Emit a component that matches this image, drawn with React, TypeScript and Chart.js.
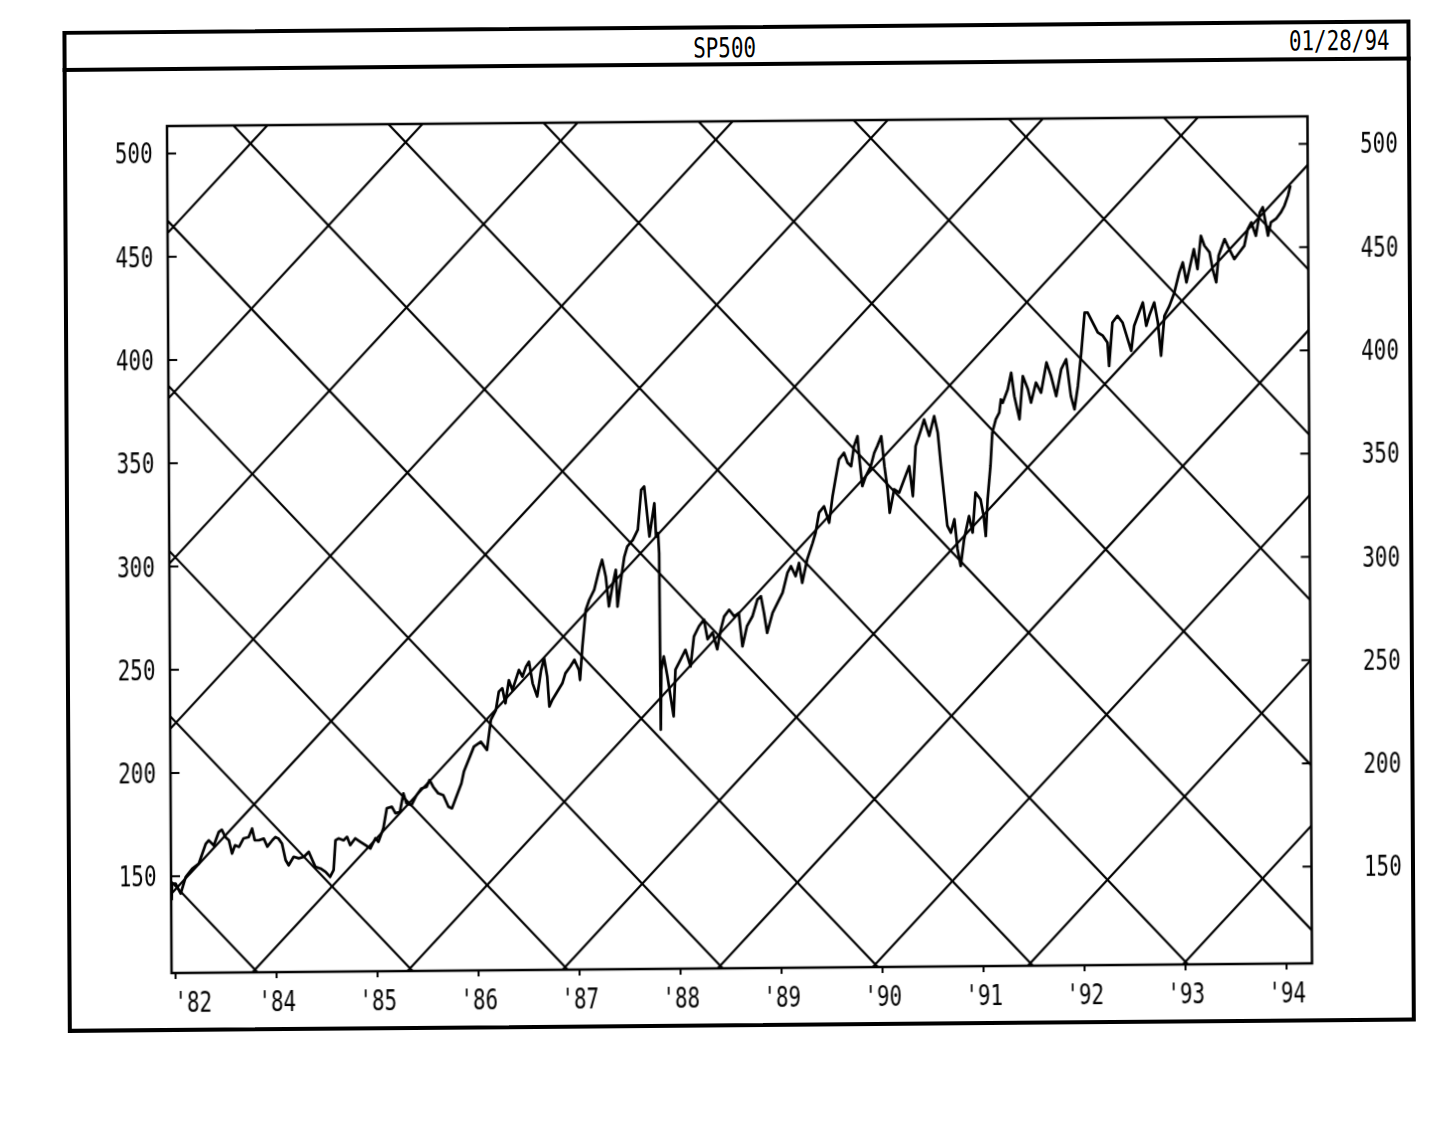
import React, { useEffect, useRef } from "react";
import { Chart, registerables } from "chart.js";

Chart.register(...registerables);

// ---------- text ----------
const TITLE = "SP500";
const DATE_TEXT = "01/28/94";

// ---------- axes ----------
const X_TICK_YEARS = [1983, 1984, 1985, 1986, 1987, 1988, 1989, 1990, 1991, 1992, 1993, 1994];
const X_TICK_LABELS = ["'82", "'84", "'85", "'86", "'87", "'88", "'89", "'90", "'91", "'92", "'93", "'94"];
const Y_TICKS = [150, 200, 250, 300, 350, 400, 450, 500];
const X_MIN = 1982.965;
const X_MAX = 1994.257;
const Y_MIN = 103.2;
const Y_MAX = 513.3;

// ---------- series (year fraction, index level) ----------
const DATES = [
  1982.97, 1982.975, 1983.01, 1983.06, 1983.11, 1983.175, 1983.24, 1983.27, 1983.31, 1983.34,
  1983.39, 1983.44, 1983.47, 1983.505, 1983.54, 1983.57, 1983.6, 1983.64, 1983.685, 1983.735,
  1983.77, 1983.795, 1983.835, 1983.885, 1983.92, 1983.97, 1984.0, 1984.03, 1984.065, 1984.1,
  1984.13, 1984.18, 1984.23, 1984.28, 1984.33, 1984.365, 1984.395, 1984.445, 1984.495, 1984.54,
  1984.575, 1984.595, 1984.625, 1984.675, 1984.71, 1984.74, 1984.79, 1984.84, 1984.89, 1984.94,
  1984.99, 1985.02, 1985.07, 1985.105, 1985.155, 1985.19, 1985.235, 1985.27, 1985.3, 1985.35,
  1985.4, 1985.45, 1985.5, 1985.53, 1985.565, 1985.615, 1985.665, 1985.715, 1985.75, 1985.8,
  1985.845, 1985.87, 1985.971, 1986.04, 1986.1, 1986.14, 1986.19, 1986.22, 1986.255, 1986.285,
  1986.32, 1986.355, 1986.42, 1986.455, 1986.49, 1986.52, 1986.555, 1986.6, 1986.64, 1986.67,
  1986.7, 1986.72, 1986.75, 1986.8, 1986.85, 1986.88, 1986.93, 1986.97, 1987.015, 1987.025,
  1987.05, 1987.085, 1987.12, 1987.17, 1987.22, 1987.25, 1987.285, 1987.315, 1987.35, 1987.385,
  1987.4, 1987.435, 1987.47, 1987.5, 1987.555, 1987.605, 1987.64, 1987.67, 1987.69, 1987.72,
  1987.755, 1987.77, 1987.785, 1987.805, 1987.815, 1987.822, 1987.83, 1987.855, 1987.89, 1987.92,
  1987.95, 1987.97, 1988.02, 1988.07, 1988.12, 1988.155, 1988.205, 1988.255, 1988.29, 1988.34,
  1988.385, 1988.42, 1988.455, 1988.505, 1988.555, 1988.6, 1988.635, 1988.68, 1988.735, 1988.785,
  1988.82, 1988.85, 1988.88, 1988.935, 1988.985, 1989.035, 1989.085, 1989.12, 1989.165, 1989.2,
  1989.23, 1989.28, 1989.335, 1989.365, 1989.4, 1989.45, 1989.5, 1989.535, 1989.57, 1989.6,
  1989.65, 1989.685, 1989.72, 1989.75, 1989.785, 1989.8, 1989.83, 1989.865, 1989.915, 1989.95,
  1989.98, 1990.02, 1990.05, 1990.08, 1990.1, 1990.145, 1990.195, 1990.245, 1990.295, 1990.33,
  1990.36, 1990.415, 1990.445, 1990.495, 1990.545, 1990.58, 1990.61, 1990.64, 1990.67, 1990.705,
  1990.74, 1990.77, 1990.8, 1990.835, 1990.885, 1990.92, 1990.95, 1991.0, 1991.03, 1991.05,
  1991.07, 1991.1, 1991.12, 1991.155, 1991.19, 1991.207, 1991.225, 1991.275, 1991.31, 1991.34,
  1991.39, 1991.425, 1991.475, 1991.505, 1991.555, 1991.605, 1991.66, 1991.705, 1991.755, 1991.805,
  1991.855, 1991.9, 1991.935, 1991.97, 1992.005, 1992.04, 1992.07, 1992.12, 1992.17, 1992.22,
  1992.265, 1992.28, 1992.315, 1992.365, 1992.415, 1992.465, 1992.5, 1992.53, 1992.58, 1992.617,
  1992.65, 1992.68, 1992.73, 1992.765, 1992.795, 1992.83, 1992.88, 1992.93, 1992.98, 1993.015,
  1993.05, 1993.08, 1993.125, 1993.16, 1993.195, 1993.23, 1993.28, 1993.31, 1993.345, 1993.37,
  1993.43, 1993.475, 1993.525, 1993.575, 1993.625, 1993.66, 1993.695, 1993.74, 1993.78, 1993.81,
  1993.86, 1993.89, 1993.94, 1993.99, 1994.025, 1994.06, 1994.085,
];

const CLOSES = [
  138.4, 146.5, 146.5, 141.6, 149.6, 153.6, 156.0, 160.1, 165.6, 167.3,
  164.8, 171.3, 172.4, 168.8, 167.2, 160.8, 164.8, 164.0, 168.1, 168.7,
  172.8, 167.2, 167.1, 167.9, 164.0, 167.1, 168.6, 167.9, 165.4, 157.4,
  154.9, 159.0, 158.2, 158.9, 161.3, 157.3, 154.0, 153.2, 151.6, 149.1,
  152.4, 166.8, 167.7, 166.8, 168.4, 164.4, 167.6, 166.0, 164.4, 162.7,
  167.6, 165.9, 172.4, 182.1, 182.8, 179.6, 180.4, 189.2, 184.4, 183.5,
  188.3, 191.6, 192.3, 195.6, 192.3, 189.1, 188.2, 182.6, 181.8, 188.2,
  193.9, 199.5, 211.6, 213.9, 209.9, 224.4, 229.2, 238.1, 239.7, 232.4,
  243.6, 238.8, 248.5, 245.3, 250.1, 252.5, 242.0, 235.6, 248.4, 254.1,
  245.2, 230.7, 233.9, 237.9, 241.9, 246.7, 250.0, 253.2, 248.2, 243.4,
  259.5, 277.3, 282.1, 287.0, 296.7, 301.5, 293.4, 278.9, 288.5, 296.6,
  278.8, 291.7, 302.9, 307.8, 311.0, 315.9, 335.2, 336.8, 327.2, 312.6,
  323.9, 328.7, 312.5, 314.2, 304.5, 219.0, 248.1, 254.5, 244.8, 235.1,
  225.4, 248.0, 252.8, 257.6, 249.5, 264.0, 268.9, 272.1, 262.6, 265.8,
  257.7, 267.1, 273.6, 276.8, 273.6, 275.2, 259.0, 268.7, 273.5, 281.6,
  283.2, 275.1, 265.4, 275.1, 280.0, 284.8, 294.5, 297.6, 292.8, 299.2,
  289.5, 300.8, 308.8, 313.7, 323.4, 326.5, 318.5, 331.4, 341.0, 349.1,
  352.3, 347.5, 345.8, 355.5, 360.3, 350.6, 336.1, 340.9, 345.7, 352.2,
  355.4, 360.2, 345.7, 334.4, 323.1, 334.4, 332.8, 339.2, 345.6, 331.1,
  355.3, 363.3, 368.1, 360.1, 369.7, 361.6, 345.5, 331.0, 316.5, 313.2,
  319.7, 305.1, 297.0, 309.9, 321.2, 313.1, 332.5, 329.2, 321.1, 311.4,
  329.2, 345.3, 361.5, 367.9, 371.1, 377.5, 375.9, 382.3, 390.4, 379.1,
  367.8, 388.7, 382.3, 375.8, 385.5, 380.6, 395.2, 388.6, 378.9, 391.8,
  396.7, 378.9, 372.4, 383.8, 399.9, 419.2, 419.2, 414.4, 409.5, 407.9,
  404.6, 393.3, 414.3, 417.5, 414.3, 406.2, 400.5, 412.6, 419.1, 423.9,
  412.6, 417.4, 423.8, 414.2, 398.0, 417.3, 422.1, 428.6, 438.3, 443.1,
  433.4, 439.8, 449.5, 439.8, 455.9, 451.1, 447.9, 439.8, 433.3, 446.2,
  454.2, 449.4, 444.5, 447.7, 450.9, 459.0, 462.2, 455.7, 467.0, 469.5,
  455.7, 462.2, 463.8, 467.0, 470.2, 475.0, 479.9,
];

// ---------- diagonal lattice (crossing trend lines) ----------
const LATTICE_ANCHOR_YEAR = 1983.791;
const LATTICE_ANCHOR_PRICE = 104.5;
const LATTICE_SLOPE = 52.1; // points per year
const LATTICE_STEP = 80; // vertical spacing between parallel lines

// ---------- styles ----------
const FONT_FAMILY = "'DejaVu Sans Mono', 'Liberation Mono', monospace";
const FONT_SIZE = 27.5;
const TEXT_SCALE_X = 0.76;
const DIGIT_HALF = 10;
const INK = "#000";

function buildLattice() {
  const sets: any[] = [];
  for (const dir of [1, -1]) {
    for (let k = -30; k <= 30; k++) {
      const f = (t: number) =>
        LATTICE_ANCHOR_PRICE + dir * LATTICE_SLOPE * (t - LATTICE_ANCHOR_YEAR) + k * LATTICE_STEP;
      const a = f(X_MIN);
      const b = f(X_MAX);
      if (Math.max(a, b) < Y_MIN || Math.min(a, b) > Y_MAX) continue;
      sets.push({
        data: [{ x: X_MIN, y: a }, { x: X_MAX, y: b }],
        borderColor: INK,
        borderWidth: 2.2,
        pointRadius: 0,
        clip: 0,
        order: 2,
      });
    }
  }
  return sets;
}

const framePlugin = {
  id: "plotFrame",
  afterDatasetsDraw(chart: any) {
    const { ctx, chartArea } = chart;
    const { left, right, top, bottom } = chartArea;
    const ys = chart.scales.y;
    ctx.save();
    ctx.strokeStyle = INK;
    ctx.lineWidth = 2.5;
    ctx.strokeRect(left, top, right - left, bottom - top);
    ctx.lineWidth = 2;
    ctx.beginPath();
    for (const v of Y_TICKS) {
      const py = ys.getPixelForValue(v);
      ctx.moveTo(left, py);
      ctx.lineTo(left + 9, py);
      ctx.moveTo(right, py);
      ctx.lineTo(right - 9, py);
    }
    ctx.stroke();
    ctx.restore();
  },
};

const labelPlugin = {
  id: "axisLabels",
  afterDraw(chart: any) {
    const { ctx, chartArea } = chart;
    const { left, right, bottom } = chartArea;
    const xs = chart.scales.x;
    const ys = chart.scales.y;
    ctx.save();
    ctx.fillStyle = INK;
    ctx.font = `${FONT_SIZE}px ${FONT_FAMILY}`;
    ctx.textBaseline = "alphabetic";
    const put = (text: string, x: number, y: number, align: CanvasTextAlign) => {
      ctx.save();
      ctx.translate(x, y);
      ctx.scale(TEXT_SCALE_X, 1);
      ctx.textAlign = align;
      ctx.fillText(text, 0, 0);
      ctx.restore();
    };
    Y_TICKS.forEach((v) => {
      const py = ys.getPixelForValue(v) + DIGIT_HALF;
      put(String(v), left - 14.5, py, "right");
      put(String(v), right + 52.5, py, "left");
    });
    X_TICK_YEARS.forEach((v, i) => {
      const px = xs.getPixelForValue(v) + (i === 0 ? 18 : 1);
      put(X_TICK_LABELS[i], px, bottom + 38.5, "center");
    });
    ctx.restore();
  },
};

export default function App() {
  const canvasRef = useRef<HTMLCanvasElement>(null);

  useEffect(() => {
    const canvas = canvasRef.current;
    if (!canvas) return;
    const chart = new Chart(canvas, {
      type: "line",
      data: {
        datasets: [
          {
            label: TITLE,
            data: DATES.map((d, i) => ({ x: d, y: CLOSES[i] })),
            borderColor: INK,
            borderWidth: 2.7,
            borderJoinStyle: "round",
            pointRadius: 0,
            tension: 0,
            order: 1,
          },
          ...buildLattice(),
        ],
      },
      options: {
        animation: false,
        responsive: false,
        maintainAspectRatio: false,
        devicePixelRatio: 1,
        events: [],
        layout: { padding: { top: 54, left: 0, right: 100.5, bottom: 0 } },
        plugins: {
          legend: { display: false },
          tooltip: { enabled: false },
          title: { display: false },
        },
        elements: { point: { radius: 0 }, line: { tension: 0 } },
        scales: {
          x: {
            type: "linear",
            min: X_MIN,
            max: X_MAX,
            afterBuildTicks: (scale: any) => {
              scale.ticks = X_TICK_YEARS.map((v) => ({ value: v }));
            },
            afterFit: (scale: any) => {
              scale.height = 56;
            },
            grid: {
              display: true,
              drawOnChartArea: false,
              drawTicks: true,
              tickLength: 6,
              color: INK,
              lineWidth: 2,
            },
            border: { display: false },
            ticks: { display: false, autoSkip: false, maxRotation: 0 },
          },
          y: {
            type: "linear",
            position: "left",
            min: Y_MIN,
            max: Y_MAX,
            afterBuildTicks: (scale: any) => {
              scale.ticks = Y_TICKS.map((v) => ({ value: v }));
            },
            afterFit: (scale: any) => {
              scale.width = 99;
            },
            grid: { display: false },
            border: { display: false },
            ticks: { display: false },
          },
        },
      },
      plugins: [framePlugin, labelPlugin],
    } as any);
    return () => chart.destroy();
  }, []);

  const textStyle: React.CSSProperties = {
    position: "absolute",
    fontFamily: FONT_FAMILY,
    fontSize: FONT_SIZE,
    lineHeight: "30px",
    color: INK,
    whiteSpace: "nowrap",
  };

  return (
    <div
      style={{
        position: "relative",
        width: 1425,
        height: 1125,
        background: "#fff",
        transform: "matrix(1, -0.0085, 0.0054, 1, 0, 0)",
        transformOrigin: "163px 869px",
      }}
    >
      <div
        style={{
          position: "absolute",
          left: 58.6,
          top: 22,
          width: 1348,
          height: 1002.4,
          border: "4px solid #000",
          boxSizing: "border-box",
        }}
      />
      <div style={{ position: "absolute", left: 58.6, top: 59, width: 1348, height: 4, background: INK }} />
      <div
        style={{
          ...textStyle,
          left: 570.5,
          width: 300,
          top: 28.5,
          textAlign: "center",
          transform: `scaleX(${TEXT_SCALE_X})`,
          transformOrigin: "50% 50%",
        }}
      >
        {TITLE}
      </div>
      <div
        style={{
          ...textStyle,
          left: 1185,
          width: 201,
          top: 27.4,
          textAlign: "right",
          transform: `scaleX(${TEXT_SCALE_X})`,
          transformOrigin: "100% 50%",
        }}
      >
        {DATE_TEXT}
      </div>
      <canvas
        ref={canvasRef}
        width={1340}
        height={957}
        style={{ position: "absolute", left: 64, top: 64, width: 1340, height: 957 }}
      />
    </div>
  );
}
